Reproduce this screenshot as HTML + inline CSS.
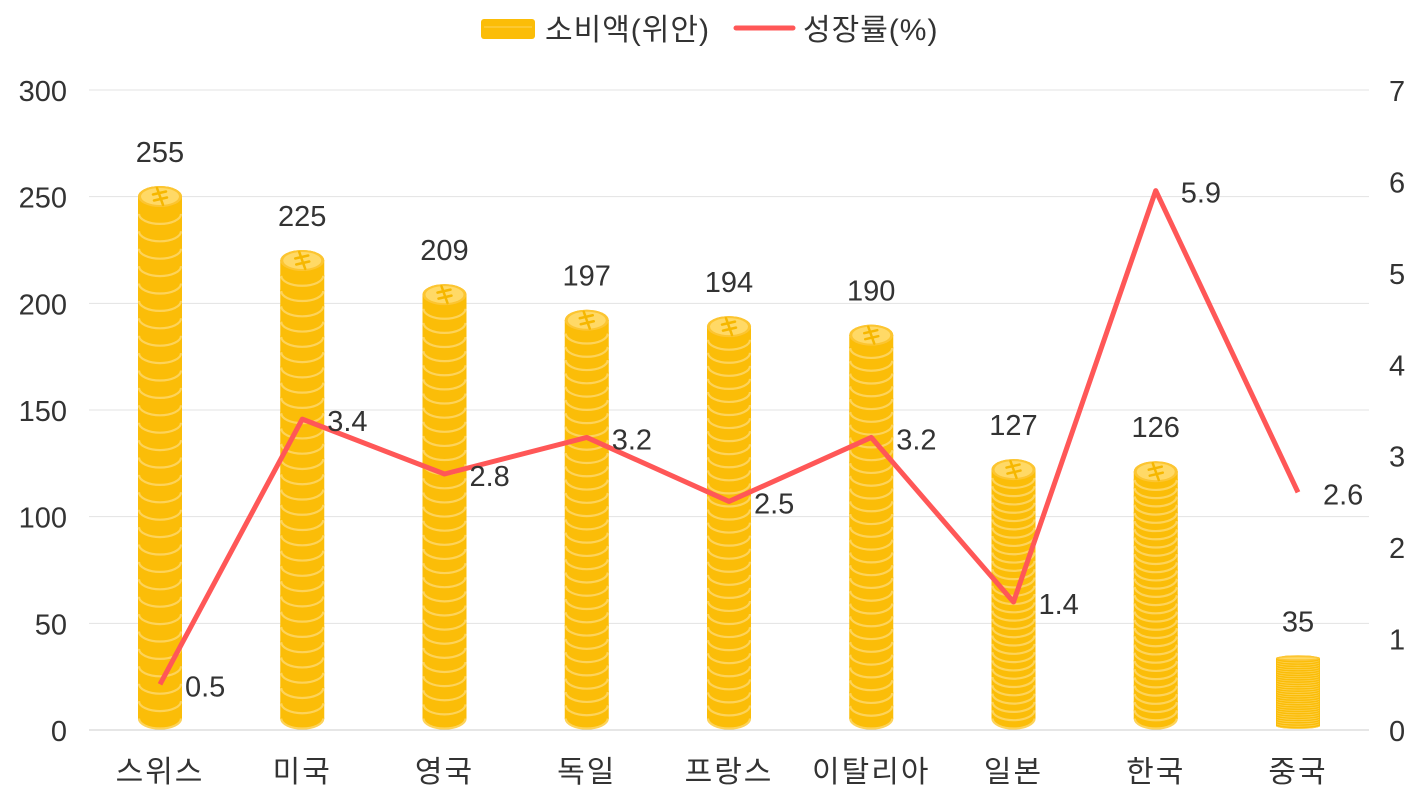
<!DOCTYPE html>
<html><head><meta charset="utf-8"><style>
html,body{margin:0;padding:0;background:#fff;}
svg text{font-family:"Liberation Sans","Noto Sans CJK KR",sans-serif;fill:#333;}
</style></head><body>
<svg id="c" width="1418" height="800" xmlns="http://www.w3.org/2000/svg"></svg>
<script>
const svg=document.getElementById('c');
let s='';
const y0=730, pxL=640/300, pxR=640/7;
for(let i=0;i<=6;i++){const y=y0-i*50*pxL;
 s+=`<line x1="89" x2="1369" y1="${y}" y2="${y}" stroke="${i==0?'#ccc':'#e3e3e3'}" stroke-width="1"/>`;
 s+=`<text x="67" y="${y+11}" font-size="29" text-anchor="end">${i*50}</text>`;}
for(let i=0;i<=7;i++){const y=y0-i*pxR;
 s+=`<text x="1389" y="${y+11}" font-size="29">${i}</text>`;}
const cats=['스위스','미국','영국','독일','프랑스','이탈리아','일본','한국','중국'];
const vals=[255,225,209,197,194,190,127,126,35];
const gr=[0.5,3.4,2.8,3.2,2.5,3.2,1.4,5.9,2.6];
const xs=cats.map((_,i)=>160+i*142.25);
cats.forEach((c,i)=>{
 const x=xs[i];
 s+=`<text x="${x}" y="782" font-size="30" letter-spacing="2" text-anchor="middle">${c}</text>`;
 const top=y0-vals[i]*pxL, bot=729, N=30, rx=22;
 const h0=(bot-top)/N; const ry=Math.min(10.5,h0*1.2);
 const h=(bot-top-2*ry)/N;
 for(let k=0;k<N;k++){
  const fy=bot-ry-h-k*h; // face center of coin k
  s+=`<rect x="${x-rx}" y="${fy}" width="${2*rx}" height="${h}" fill="#FBBD08"/>`;
  s+=`<ellipse cx="${x}" cy="${fy+h}" rx="${rx}" ry="${ry}" fill="#FBBD08"/>`;
  const sw=Math.min(2.2,h*0.3);
  s+=`<path d="M${x-rx+1},${fy+h} A${rx-1},${ry-0.5} 0 0 0 ${x+rx-1},${fy+h}" fill="none" stroke="#FDD35A" stroke-width="${sw}"/>`;
  s+=`<ellipse cx="${x}" cy="${fy}" rx="${rx}" ry="${ry}" fill="#FBBD08"/>`;
 }
 const ty=bot-ry-h-(N-1)*h;
 s+=`<ellipse cx="${x}" cy="${ty}" rx="${rx}" ry="${ry}" fill="#FCC531"/>`;
 s+=`<ellipse cx="${x}" cy="${ty}" rx="${rx-3}" ry="${Math.max(ry-2,1)}" fill="#FFD966"/>`;
 if(ry>5){const a=ry*0.8;
  s+=`<g stroke="#F6B700" stroke-width="2.5" stroke-linecap="round"><line x1="${x-3}" y1="${ty-a}" x2="${x+3}" y2="${ty+a}"/><line x1="${x-7}" y1="${ty-2}" x2="${x+6}" y2="${ty-5}"/><line x1="${x-6}" y1="${ty+4}" x2="${x+7}" y2="${ty+1}"/></g>`;}
 s+=`<text x="${x}" y="${top-24}" font-size="29" text-anchor="middle">${vals[i]}</text>`;
});
let pts=xs.map((x,i)=>`${x},${y0-gr[i]*pxR}`).join(' ');
s+=`<polyline points="${pts}" fill="none" stroke="#FF5757" stroke-width="5" stroke-linejoin="round"/>`;
xs.forEach((x,i)=>{s+=`<text x="${x+25}" y="${y0-gr[i]*pxR+12}" font-size="29">${gr[i]}</text>`;});
s+=`<rect x="481" y="19" width="54" height="20" rx="3" fill="#FBBD08"/><line x1="484" x2="532" y1="27" y2="27" stroke="#FDD35A" stroke-width="1"/>`;
s+=`<text x="545" y="40" font-size="30" letter-spacing="1">소비액(위안)</text>`;
s+=`<line x1="736" x2="793" y1="28" y2="28" stroke="#FF5757" stroke-width="5" stroke-linecap="round"/>`;
s+=`<text x="803" y="40" font-size="30" letter-spacing="1">성장률(%)</text>`;
svg.innerHTML=s;
</script>
</body></html>
